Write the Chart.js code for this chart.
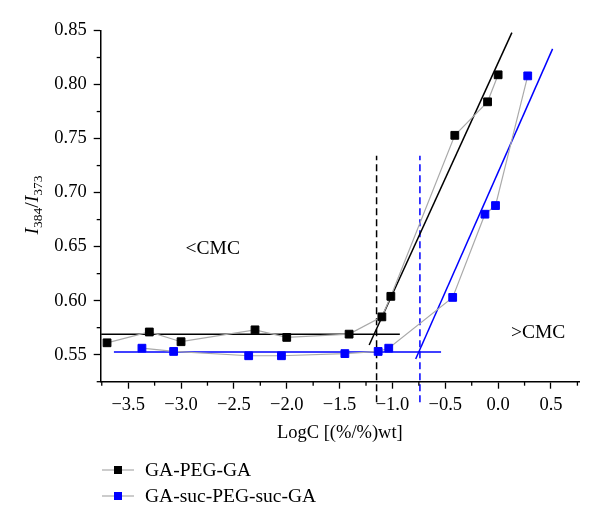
<!DOCTYPE html>
<html>
<head>
<meta charset="utf-8">
<script src="https://cdn.jsdelivr.net/npm/chart.js@4"></script>
<style>
  html, body { margin: 0; padding: 0; background: #fff; }
  #wrap { width: 600px; height: 528px; }
</style>
</head>
<body>
<div id="wrap"><canvas id="cmcChart" width="600" height="528"></canvas></div>
<script>
// Pyrene I384/I373 ratio vs log concentration
const seriesNames = ['GA-PEG-GA', 'GA-suc-PEG-suc-GA'];

const pegX = [-3.70, -3.30, -3.00, -2.30, -2.00, -1.41, -1.10, -1.015, -0.41, -0.10, 0.00];
const pegY = [0.561, 0.571, 0.562, 0.573, 0.566, 0.569, 0.585, 0.604, 0.753, 0.784, 0.809];
const sucX = [-3.37, -3.07, -2.36, -2.05, -1.45, -1.135, -1.035, -0.43, -0.125, -0.025, 0.28];
const sucY = [0.556, 0.553, 0.549, 0.549, 0.551, 0.553, 0.556, 0.603, 0.680, 0.688, 0.808];

// linear fits (below / above CMC)
const pegFlatX = [-3.755, -0.93];
const pegFlatY = [0.569, 0.569];
const pegRiseX = [-1.22, 0.13];
const pegRiseY = [0.559, 0.848];
const sucFlatX = [-3.635, -0.54];
const sucFlatY = [0.5525, 0.5525];
const sucRiseX = [-0.78, 0.515];
const sucRiseY = [0.546, 0.833];

// CMC markers (dashed verticals)
const cmcX = [-1.15, -0.74];
const cmcSpanY = [0.506, 0.734];

// axis ticks
const xTicks = [-3.5, -3.0, -2.5, -2.0, -1.5, -1.0, -0.5, 0.0, 0.5];
const xMinorTicks = [-3.75, -3.25, -2.75, -2.25, -1.75, -1.25, -0.75, -0.25, 0.25, 0.75];
const yTicks = [0.55, 0.60, 0.65, 0.70, 0.75, 0.80, 0.85];
const yMinorTicks = [0.525, 0.575, 0.625, 0.675, 0.725, 0.775, 0.825];

// region labels
const regionText = ['<CMC', '>CMC'];
const regionX = [-2.70, 0.378];
const regionY = [0.648, 0.570];

const SERIF = '"Liberation Serif", "DejaVu Serif", serif';
const BLUE = '#0000ff';
const GRAY = '#aaaaaa';

const zip = (xs, ys) => xs.map((x, i) => ({ x: x, y: ys[i] }));

function lineSet(xs, ys, color, extra) {
    return Object.assign({
        data: zip(xs, ys),
        borderColor: color,
        borderWidth: 1.5,
        pointRadius: 0,
        showLine: true,
        fill: false
    }, extra || {});
}

// draws minor ticks, y title, region labels and legend
const extrasPlugin = {
    id: 'extras',
    afterDraw(chart) {
        const { ctx, chartArea } = chart;
        const xs = chart.scales.x, ys = chart.scales.y;
        ctx.save();

        ctx.strokeStyle = '#000';
        ctx.lineWidth = 1.3;
        xMinorTicks.forEach(v => {
            const px = xs.getPixelForValue(v);
            ctx.beginPath();
            ctx.moveTo(px, chartArea.bottom);
            ctx.lineTo(px, chartArea.bottom + 4);
            ctx.stroke();
        });
        yMinorTicks.forEach(v => {
            const py = ys.getPixelForValue(v);
            ctx.beginPath();
            ctx.moveTo(chartArea.left, py);
            ctx.lineTo(chartArea.left - 4, py);
            ctx.stroke();
        });

        // y axis title with subscripts
        const parts = [
            { t: 'I', f: 'italic 19.5px ' + SERIF, dy: 0 },
            { t: '384', f: '13.5px ' + SERIF, dy: 4 },
            { t: '/', f: '19.5px ' + SERIF, dy: 0 },
            { t: 'I', f: 'italic 19.5px ' + SERIF, dy: 0 },
            { t: '373', f: '13.5px ' + SERIF, dy: 4 }
        ];
        let total = 0;
        parts.forEach(p => { ctx.font = p.f; p.w = ctx.measureText(p.t).width; total += p.w; });
        ctx.save();
        ctx.translate(38, 205);
        ctx.rotate(-Math.PI / 2);
        ctx.fillStyle = '#000';
        ctx.textBaseline = 'alphabetic';
        ctx.textAlign = 'left';
        let cx = -total / 2;
        parts.forEach(p => {
            ctx.font = p.f;
            ctx.fillText(p.t, cx, p.dy);
            cx += p.w;
        });
        ctx.restore();

        // region labels
        ctx.font = '19.5px ' + SERIF;
        ctx.fillStyle = '#000';
        ctx.textAlign = 'center';
        ctx.textBaseline = 'middle';
        regionText.forEach((t, i) => {
            ctx.fillText(t, xs.getPixelForValue(regionX[i]), ys.getPixelForValue(regionY[i]));
        });

        // legend
        const legendColors = ['#000', BLUE];
        const rowY = [470, 496];
        ctx.textAlign = 'left';
        seriesNames.forEach((name, i) => {
            const y = rowY[i];
            ctx.strokeStyle = GRAY;
            ctx.lineWidth = 1.2;
            ctx.beginPath();
            ctx.moveTo(102, y);
            ctx.lineTo(134, y);
            ctx.stroke();
            ctx.fillStyle = legendColors[i];
            ctx.fillRect(114, y - 4, 8, 8);
            ctx.fillStyle = '#000';
            ctx.fillText(name, 145, y + 1);
        });

        ctx.restore();
    }
};

new Chart(document.getElementById('cmcChart'), {
    type: 'scatter',
    data: {
        datasets: [
            {
                label: seriesNames[0],
                data: zip(pegX, pegY),
                showLine: true,
                borderColor: GRAY,
                borderWidth: 1.2,
                pointStyle: 'rect',
                pointRadius: 5.5,
                pointBackgroundColor: '#000',
                pointBorderColor: '#000',
                pointBorderWidth: 1
            },
            {
                label: seriesNames[1],
                data: zip(sucX, sucY),
                showLine: true,
                borderColor: GRAY,
                borderWidth: 1.2,
                pointStyle: 'rect',
                pointRadius: 5.5,
                pointBackgroundColor: BLUE,
                pointBorderColor: BLUE,
                pointBorderWidth: 1
            },
            lineSet(pegFlatX, pegFlatY, '#000'),
            lineSet(pegRiseX, pegRiseY, '#000'),
            lineSet(sucFlatX, sucFlatY, BLUE),
            lineSet(sucRiseX, sucRiseY, BLUE),
            lineSet([cmcX[0], cmcX[0]], cmcSpanY, '#000', { borderDash: [7, 4], clip: false }),
            lineSet([cmcX[1], cmcX[1]], cmcSpanY, BLUE, { borderDash: [7, 4], clip: false })
        ]
    },
    options: {
        responsive: false,
        animation: false,
        devicePixelRatio: 1,
        layout: { padding: { left: 0, right: 21, top: 30.5, bottom: 83.4 } },
        plugins: {
            legend: { display: false },
            tooltip: { enabled: false }
        },
        scales: {
            x: {
                type: 'linear',
                min: -3.76,
                max: 0.765,
                afterFit: scale => { scale.height = 62.9; },
                afterBuildTicks: axis => { axis.ticks = xTicks.map(v => ({ value: v })); },
                border: { display: true, color: '#000', width: 1.5 },
                grid: { drawOnChartArea: false, drawTicks: true, tickLength: 7, tickColor: '#000', tickWidth: 1.3 },
                ticks: {
                    color: '#000',
                    padding: 5,
                    maxRotation: 0,
                    font: { family: SERIF, size: 18.5 },
                    callback: v => (v < 0 ? '\u2212' : '') + Math.abs(v).toFixed(1)
                },
                title: {
                    display: true,
                    text: 'LogC [(%/%)wt]',
                    color: '#000',
                    padding: { top: 0, bottom: 0 },
                    font: { family: SERIF, size: 18.5 }
                }
            },
            y: {
                type: 'linear',
                min: 0.525,
                max: 0.85,
                afterFit: scale => { scale.width = 100.7; },
                afterBuildTicks: axis => { axis.ticks = yTicks.map(v => ({ value: v })); },
                border: { display: true, color: '#000', width: 1.5 },
                grid: { drawOnChartArea: false, drawTicks: true, tickLength: 7, tickColor: '#000', tickWidth: 1.3 },
                ticks: {
                    color: '#000',
                    padding: 7,
                    font: { family: SERIF, size: 18.5 },
                    callback: v => v.toFixed(2)
                }
            }
        }
    },
    plugins: [extrasPlugin]
});
</script>
</body>
</html>
